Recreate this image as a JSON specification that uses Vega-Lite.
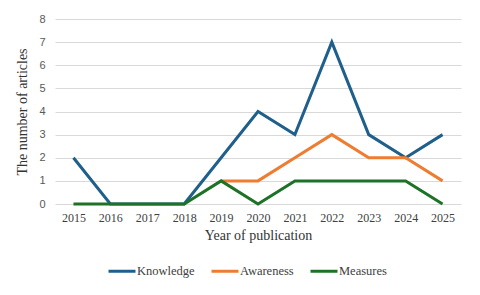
{
  "$schema": "https://vega.github.io/schema/vega-lite/v6.json",
  "width": 406,
  "height": 185,
  "autosize": "none",
  "padding": {"left": 55, "top": 19, "right": 19, "bottom": 91},
  "background": "white",
  "data": {
    "values": [
      {"year": "2015", "series": "Knowledge", "count": 2},
      {"year": "2016", "series": "Knowledge", "count": 0},
      {"year": "2017", "series": "Knowledge", "count": 0},
      {"year": "2018", "series": "Knowledge", "count": 0},
      {"year": "2019", "series": "Knowledge", "count": 2},
      {"year": "2020", "series": "Knowledge", "count": 4},
      {"year": "2021", "series": "Knowledge", "count": 3},
      {"year": "2022", "series": "Knowledge", "count": 7},
      {"year": "2023", "series": "Knowledge", "count": 3},
      {"year": "2024", "series": "Knowledge", "count": 2},
      {"year": "2025", "series": "Knowledge", "count": 3},
      {"year": "2019", "series": "Awareness", "count": 1},
      {"year": "2020", "series": "Awareness", "count": 1},
      {"year": "2021", "series": "Awareness", "count": 2},
      {"year": "2022", "series": "Awareness", "count": 3},
      {"year": "2023", "series": "Awareness", "count": 2},
      {"year": "2024", "series": "Awareness", "count": 2},
      {"year": "2025", "series": "Awareness", "count": 1},
      {"year": "2015", "series": "Measures", "count": 0},
      {"year": "2016", "series": "Measures", "count": 0},
      {"year": "2017", "series": "Measures", "count": 0},
      {"year": "2018", "series": "Measures", "count": 0},
      {"year": "2019", "series": "Measures", "count": 1},
      {"year": "2020", "series": "Measures", "count": 0},
      {"year": "2021", "series": "Measures", "count": 1},
      {"year": "2022", "series": "Measures", "count": 1},
      {"year": "2023", "series": "Measures", "count": 1},
      {"year": "2024", "series": "Measures", "count": 1},
      {"year": "2025", "series": "Measures", "count": 0}
    ]
  },
  "mark": {"type": "line", "strokeWidth": 3, "strokeJoin": "miter"},
  "encoding": {
    "x": {
      "field": "year",
      "type": "ordinal",
      "scale": {"type": "point", "padding": 0.5},
      "axis": {
        "title": "Year of publication",
        "labelAngle": 0,
        "ticks": false,
        "domain": false,
        "grid": false,
        "labelFont": "Liberation Serif",
        "labelFontSize": 12,
        "labelColor": "#404040",
        "labelPadding": 8,
        "titleFont": "Liberation Serif",
        "titleFontSize": 14,
        "titleFontWeight": "normal",
        "titleColor": "#333333",
        "titlePadding": 5
      }
    },
    "y": {
      "field": "count",
      "type": "quantitative",
      "scale": {"domain": [0, 8], "nice": false},
      "axis": {
        "title": "The number of articles",
        "values": [0, 1, 2, 3, 4, 5, 6, 7, 8],
        "ticks": false,
        "domain": false,
        "grid": true,
        "gridColor": "#d9d9d9",
        "gridWidth": 1,
        "labelFont": "Liberation Sans",
        "labelFontSize": 11,
        "labelColor": "#595959",
        "labelPadding": 10,
        "titleFont": "Liberation Serif",
        "titleFontSize": 14,
        "titleFontWeight": "normal",
        "titleColor": "#333333",
        "titlePadding": 9
      }
    },
    "color": {
      "field": "series",
      "type": "nominal",
      "scale": {
        "domain": ["Knowledge", "Awareness", "Measures"],
        "range": ["#1F5F8B", "#EE7D31", "#1E7228"]
      },
      "legend": {
        "title": null,
        "orient": "none",
        "legendX": 52,
        "legendY": 237,
        "direction": "horizontal",
        "symbolType": "stroke",
        "symbolSize": 729,
        "symbolStrokeWidth": 3,
        "labelFont": "Liberation Serif",
        "labelFontSize": 12.5,
        "labelColor": "#404040",
        "labelOffset": 0,
        "columnPadding": 10
      }
    }
  },
  "config": {
    "view": {"stroke": null}
  }
}
